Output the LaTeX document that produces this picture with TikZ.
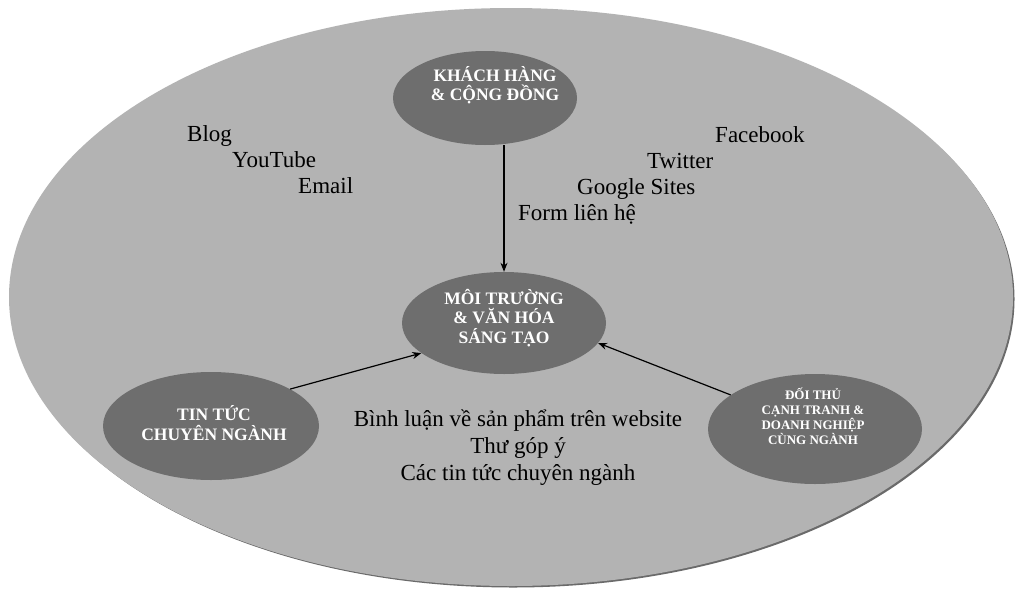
\documentclass[tikz,border=0pt]{standalone}
\usepackage{fontspec}
\setmainfont{Liberation Serif}
\usetikzlibrary{shapes.geometric,arrows.meta}
\definecolor{bggray}{HTML}{B3B3B3}
\definecolor{darkfill}{HTML}{6E6E6E}
\definecolor{shadowgray}{HTML}{6A6A6A}
\tikzset{
  bigell/.style={ellipse, draw=none, fill=bggray, inner sep=0pt},
  bubble/.style={ellipse, draw=none, fill=darkfill, inner sep=0pt},
  btext/.style={text=white, align=center, font=\bfseries\fontsize{17.5}{19.5}\selectfont, inner sep=0pt},
  stext/.style={text=white, align=center, font=\bfseries\fontsize{13}{15}\selectfont, inner sep=0pt},
  lbl/.style={text=black, font=\fontsize{23}{26}\selectfont, inner sep=0pt},
  conn/.style={-{Stealth[length=9pt,width=7pt]}, line width=1.2pt, black}
}
\begin{document}
\begin{tikzpicture}[x=1pt,y=-1pt]
\useasboundingbox (0,0) rectangle (1016,589);
\fill[white] (0,0) rectangle (1016,589);
% background ellipse with a faint shadow toward the lower right
\node[bigell, fill=shadowgray, minimum width=1003pt, minimum height=577pt] (bgshadow) at (513,299) {};
\node[bigell, minimum width=1004pt, minimum height=578pt] (bg) at (511,297) {};

% bubbles
\node[bubble, minimum width=184pt, minimum height=94pt] (topE) at (485,98) {};
\node[bubble, minimum width=204pt, minimum height=102pt] (midE) at (504,323) {};
\node[bubble, minimum width=216pt, minimum height=108pt] (leftE) at (211,426) {};
\node[bubble, minimum width=214pt, minimum height=110pt] (rightE) at (815,429) {};

% connectors
\draw[conn] (midE.north |- topE.south) -- (midE.north);
\draw[conn] (leftE.25) -- (midE.200);
\draw[conn] (rightE.158) -- (midE.348);

% bubble texts
\node[btext] (topT) at (495,85) {KHÁCH HÀNG\\\& CỘNG ĐỒNG};
\node[btext] (midT) at (504,318) {MÔI TRƯỜNG\\\& VĂN HÓA\\SÁNG TẠO};
\node[btext] (leftT) at (214,423) {TIN TỨC\\CHUYÊN NGÀNH};
\node[stext] (rightT) at (813,416) {ĐỐI THỦ\\CẠNH TRANH \&\\DOANH NGHIỆP\\CÙNG NGÀNH};

% channel labels
\node[lbl, anchor=base west] (blog) at (187,141) {Blog};
\node[lbl, anchor=base west] (yt) at (232,167) {YouTube};
\node[lbl, anchor=base west] (email) at (298,193) {Email};
\node[lbl, anchor=base west] (fb) at (715,142) {Facebook};
\node[lbl, anchor=base west] (tw) at (647,168) {Twitter};
\node[lbl, anchor=base west] (gs) at (577,194) {Google Sites};
\node[lbl, anchor=base west] (form) at (518,220) {Form liên hệ};

\node[lbl, anchor=base] (bl1) at (518,426) {Bình luận về sản phẩm trên website};
\node[lbl, anchor=base] (bl2) at (518,453) {Thư góp ý};
\node[lbl, anchor=base] (bl3) at (518,480) {Các tin tức chuyên ngành};
\end{tikzpicture}
\end{document}
